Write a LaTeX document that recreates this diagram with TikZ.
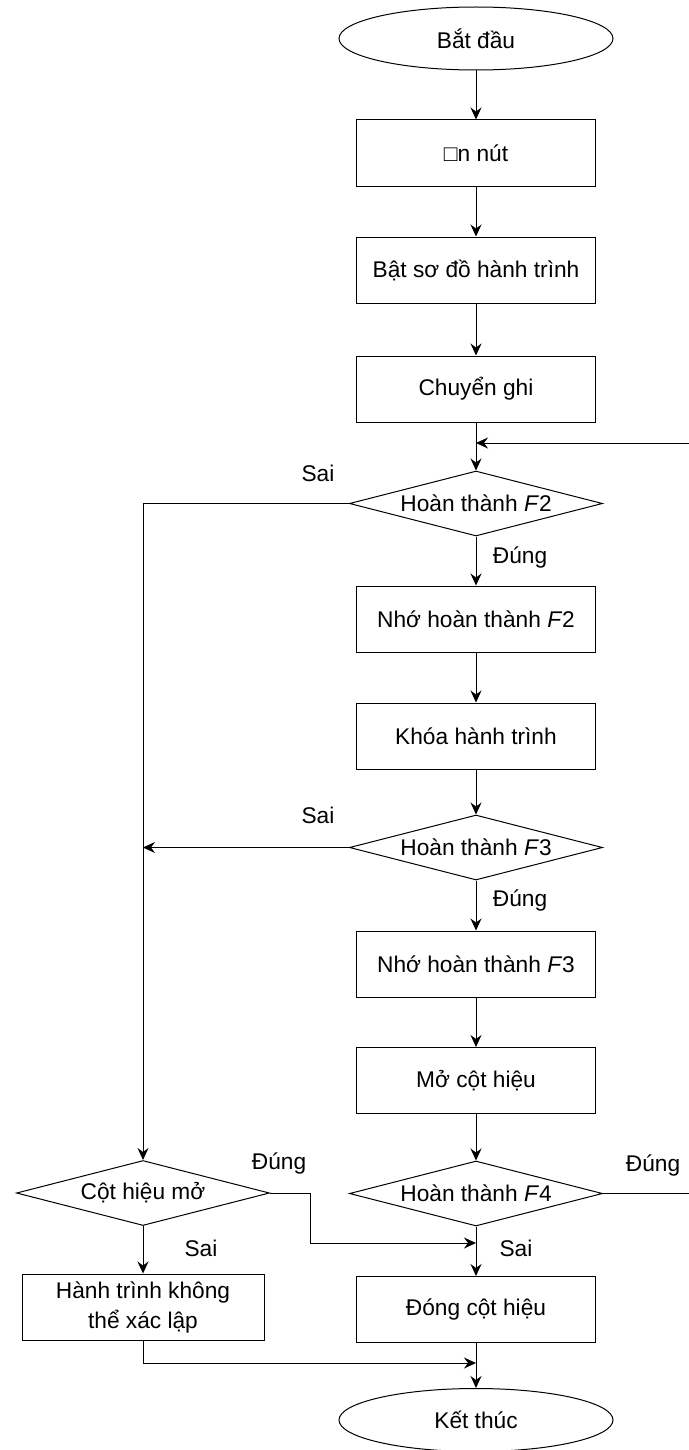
\documentclass[tikz,border=0pt]{standalone}
\usepackage{fontspec}
\setmainfont{Liberation Sans}
\usetikzlibrary{shapes.geometric, arrows.meta}

\tikzset{
    stepbox/.style={draw, rectangle, minimum width=119.5pt, minimum height=33pt, inner sep=0pt, align=center},
    terminal/.style={draw, ellipse, minimum width=137pt, minimum height=31.5pt, inner sep=0pt},
    decision/.style={draw, diamond, aspect=3.9, minimum width=126.5pt, minimum height=32.5pt, inner sep=0pt},
    flow/.style={-{Stealth[length=6pt, width=5.5pt, inset=2pt]}},
    answer/.style={inner sep=0pt},
}

\begin{document}
\begin{tikzpicture}[x=0.5pt, y=-0.5pt, line width=0.5pt, font=\fontsize{11.35}{15}\selectfont]
    \useasboundingbox (0,0) rectangle (689,1450);
    %%% Main column
    \node[terminal] (start) at (476,38.5) {Bắt đầu};
    \node[stepbox] (press) at (476,153) {□n nút};
    \node[stepbox] (map) at (476,270) {Bật sơ đồ hành trình};
    \node[stepbox] (shift) at (476,389) {Chuyển ghi};
    \node[decision] (f2) at (476,503.5) {Hoàn thành \textit{F}2};
    \node[stepbox] (memf2) at (476,619) {Nhớ hoàn thành \textit{F}2};
    \node[stepbox] (lock) at (476,736) {Khóa hành trình};
    \node[decision] (f3) at (476,847.5) {Hoàn thành \textit{F}3};
    \node[stepbox] (memf3) at (476,964) {Nhớ hoàn thành \textit{F}3};
    \node[stepbox] (open) at (476,1080.5) {Mở cột hiệu};
    \node[decision] (f4) at (476,1193.5) {Hoàn thành \textit{F}4};
    \node[stepbox] (close) at (476,1309.5) {Đóng cột hiệu};
    \node[terminal] (finish) at (476,1420) {Kết thúc};
    %
    %%% Left column
    \node[decision] (check) at (143,1193) {Cột hiệu mở};
    \node[stepbox, minimum width=121pt] (fail) at (143,1307) {Hành trình không\\thể xác lập};
    %
    \coordinate (loopin) at (689,443);
    \coordinate (back) at (689,1193.5);
    \coordinate (merge1) at (476,1243);
    \coordinate (merge2) at (476,1363);
    %
    \draw[flow] (start) -- (press);
    \draw[flow] (press) -- (map);
    \draw[flow] (map) -- (shift);
    \draw[flow] (shift) -- (f2);
    \draw[flow] (f2) -- (memf2);
    \draw[flow] (memf2) -- (lock);
    \draw[flow] (lock) -- (f3);
    \draw[flow] (f3) -- (memf3);
    \draw[flow] (memf3) -- (open);
    \draw[flow] (open) -- (f4);
    \draw[flow] (f4) -- (close);
    \draw[flow] (close) -- (finish);
    \draw[flow] (loopin) -- (loopin -| shift.south); % back to F2
    \draw (f4.east) -- (back);
    \draw[flow] (f2.west) -| (check.north);
    \draw[flow] (f3.west) -- (f3.west -| check.north);
    \draw[flow] (check) -- (fail);
    \draw[flow] (check.east) -- ++(40,0) |- (merge1);
    \draw[flow] (fail.south) |- (merge2);
    %
    %%% Answers
    \node[answer] (no2) at (318,473) {Sai};
    \node[answer] (yes2) at (520,557) {Đúng};
    \node[answer] (no3) at (318,815) {Sai};
    \node[answer] (yes3) at (520,900) {Đúng};
    \node[answer] (yescheck) at (279,1163) {Đúng};
    \node[answer] (yes4) at (653,1165) {Đúng};
    \node[answer] (nocheck) at (201,1248) {Sai};
    \node[answer] (no4) at (516,1248) {Sai};
\end{tikzpicture}
\end{document}
